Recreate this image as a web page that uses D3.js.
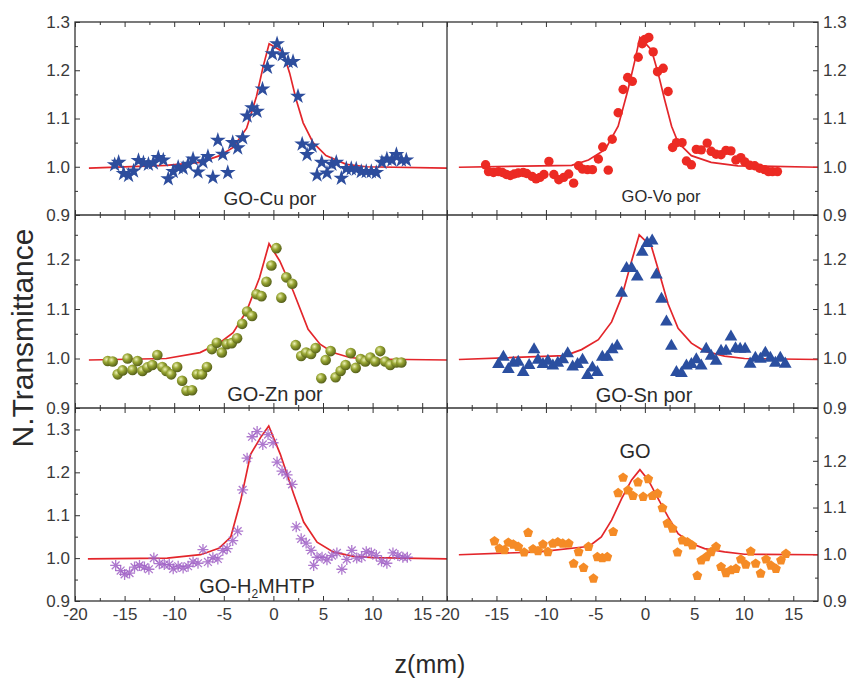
<!DOCTYPE html>
<html>
<head>
<meta charset="utf-8">
<script src="https://cdn.jsdelivr.net/npm/d3@7/dist/d3.min.js"></script>
<style>
body { margin: 0; background: #fff; }
text { font-family: "Liberation Sans", Arial, sans-serif; fill: #2a2a2a; }
.tick text { font-family: "Liberation Sans Narrow", "Arial Narrow", "Liberation Sans", sans-serif; font-size: 17px; fill: #3a3a3a; }
.tick line { stroke: #333; }
</style>
</head>
<body>
<script>
// ---- data: [z (mm), normalized transmittance] ----
const cuPoints = [[-16.0,1.004],[-15.6,1.009],[-15.1,0.986],[-14.6,0.982],[-14.1,0.991],[-13.6,1.013],[-13.1,1.008],[-12.6,1.005],[-12.1,1.008],[-11.6,1.019],[-11.1,1.014],[-10.6,0.975],[-10.1,0.990],[-9.6,0.999],[-9.1,0.997],[-8.6,1.005],[-8.1,1.016],[-7.6,0.989],[-7.1,1.010],[-6.6,1.021],[-6.1,0.978],[-5.6,1.055],[-5.1,1.026],[-4.6,0.988],[-4.1,1.050],[-3.6,1.039],[-3.1,1.060],[-2.65,1.105],[-2.15,1.122],[-1.65,1.115],[-1.1,1.161],[-0.6,1.206],[-0.1,1.234],[0.37,1.255],[0.9,1.232],[1.48,1.218],[1.98,1.218],[2.48,1.146],[2.9,1.047],[3.39,1.025],[3.9,1.043],[4.4,0.983],[4.87,1.009],[5.4,0.987],[5.9,1.005],[6.34,1.009],[6.85,0.976],[7.35,0.996],[7.85,0.996],[8.35,0.995],[8.86,0.990],[9.36,0.990],[9.87,0.990],[10.37,0.988],[10.94,1.009],[11.44,1.016],[11.95,1.014],[12.4,1.025],[12.9,1.014],[13.4,1.014]];
const cuFit = [[-18.6,0.997],[-10.8,1.003],[-7.4,1.009],[-5.4,1.023],[-4.06,1.040],[-2.7,1.080],[-1.7,1.146],[-1.04,1.207],[-0.43,1.255],[0.97,1.238],[1.64,1.194],[2.3,1.139],[3.0,1.091],[4.0,1.050],[5.3,1.023],[7.35,1.005],[9.36,1.000],[17.5,0.997]];

const voPoints = [[-16.1,1.004],[-15.8,0.990],[-15.3,0.988],[-14.8,0.990],[-14.4,0.988],[-14.0,0.984],[-13.6,0.982],[-13.2,0.985],[-12.8,0.987],[-12.3,0.988],[-11.95,0.986],[-11.4,0.980],[-11.0,0.975],[-10.6,0.978],[-10.2,0.984],[-9.7,1.011],[-9.2,0.984],[-8.7,0.973],[-8.2,0.978],[-7.7,0.985],[-7.2,0.966],[-6.7,1.002],[-6.3,0.995],[-5.8,0.994],[-5.3,0.994],[-4.7,1.016],[-4.26,1.041],[-3.7,0.993],[-3.3,1.057],[-2.7,1.112],[-2.2,1.160],[-1.74,1.185],[-1.27,1.177],[-0.67,1.227],[-0.27,1.255],[0.0,1.264],[0.4,1.268],[0.84,1.238],[1.28,1.197],[1.85,1.204],[2.35,1.156],[2.8,1.040],[3.2,1.050],[3.76,1.050],[4.2,1.012],[4.7,1.004],[5.2,1.036],[5.7,1.035],[6.3,1.049],[6.7,1.032],[7.2,1.026],[7.7,1.025],[8.2,1.034],[8.7,1.033],[9.2,1.014],[9.7,1.019],[10.1,1.010],[10.6,1.003],[11.1,1.002],[11.6,0.997],[12.1,0.994],[12.5,0.990],[12.9,0.990],[13.4,0.990]];
const voFit = [[-18.8,0.999],[-7.4,1.003],[-5.7,1.014],[-4.0,1.036],[-2.7,1.084],[-1.7,1.160],[-1.0,1.221],[-0.5,1.268],[0.67,1.242],[1.34,1.194],[2.0,1.139],[2.7,1.084],[3.36,1.050],[4.7,1.023],[6.7,1.009],[9.4,1.002],[17.5,0.999]];

const znPoints = [[-16.7,0.995],[-16.2,0.994],[-15.7,0.968],[-15.2,0.976],[-14.7,1.000],[-14.2,0.977],[-13.7,0.995],[-13.2,0.975],[-12.7,0.982],[-12.2,0.987],[-11.7,1.007],[-11.2,0.983],[-10.8,0.975],[-10.3,0.968],[-9.7,0.983],[-9.2,0.955],[-8.76,0.935],[-8.2,0.936],[-7.7,0.968],[-7.2,0.968],[-6.7,0.983],[-6.2,1.019],[-5.7,1.032],[-5.2,1.012],[-4.7,1.029],[-4.2,1.031],[-3.66,1.041],[-3.15,1.070],[-2.65,1.095],[-2.15,1.086],[-1.7,1.130],[-1.2,1.126],[-0.7,1.155],[-0.2,1.188],[0.3,1.223],[0.8,1.123],[1.3,1.164],[1.9,1.151],[2.25,1.027],[2.8,1.005],[3.3,1.012],[3.8,1.009],[4.26,1.021],[4.83,0.960],[5.27,0.997],[5.77,1.015],[6.27,0.962],[6.78,0.975],[7.28,0.987],[7.8,1.011],[8.3,0.981],[8.8,0.999],[9.26,0.994],[9.77,1.002],[10.27,0.994],[10.77,1.015],[11.27,0.994],[11.78,0.987],[12.4,0.992],[12.9,0.992]];
const znFit = [[-18.6,0.997],[-10.8,1.000],[-7.4,1.012],[-5.4,1.032],[-4.06,1.052],[-2.7,1.096],[-1.4,1.163],[-0.44,1.232],[0.64,1.197],[2.0,1.136],[3.5,1.059],[4.7,1.029],[6.0,1.012],[7.7,1.002],[9.36,0.999],[17.5,0.997]];

const snPoints = [[-14.8,0.988],[-14.3,1.003],[-13.8,0.978],[-13.3,0.991],[-12.8,0.993],[-12.3,0.972],[-11.7,0.986],[-11.2,1.018],[-10.8,0.997],[-10.3,0.988],[-9.8,0.995],[-9.3,0.985],[-8.8,0.991],[-8.3,0.998],[-7.8,1.010],[-7.3,0.983],[-6.8,0.988],[-6.3,0.997],[-5.8,0.966],[-5.3,0.981],[-4.8,0.972],[-4.3,1.003],[-3.8,1.003],[-3.3,1.018],[-2.8,1.025],[-2.35,1.132],[-1.85,1.182],[-1.34,1.182],[-0.77,1.165],[-0.27,1.215],[0.23,1.233],[0.74,1.238],[1.17,1.169],[1.68,1.120],[2.18,1.074],[2.68,1.025],[3.19,0.972],[3.7,0.970],[4.2,0.985],[4.7,0.988],[5.2,0.998],[5.7,0.985],[6.2,1.019],[6.7,1.005],[7.2,0.995],[7.7,1.015],[8.2,1.015],[8.7,1.044],[9.16,1.020],[9.63,1.019],[10.13,1.019],[10.64,0.989],[11.17,1.001],[11.68,0.999],[12.18,1.011],[12.68,1.001],[13.19,0.991],[13.69,1.001],[14.19,0.989]];
const snFit = [[-18.8,0.998],[-8.05,1.006],[-6.4,1.018],[-4.7,1.038],[-3.36,1.074],[-2.35,1.124],[-1.34,1.197],[-0.57,1.250],[0.67,1.226],[1.5,1.170],[2.35,1.110],[3.36,1.061],[4.7,1.031],[6.0,1.015],[8.05,1.005],[10.07,1.000],[17.5,0.998]];

const h2Points = [[-15.9,0.983],[-15.4,0.971],[-15.0,0.962],[-14.5,0.965],[-14.0,0.979],[-13.5,0.983],[-13.0,0.979],[-12.55,0.974],[-12.05,1.000],[-11.5,0.987],[-11.0,0.985],[-10.5,0.985],[-10.1,0.975],[-9.6,0.981],[-9.1,0.977],[-8.6,0.981],[-8.1,0.991],[-7.6,0.988],[-7.1,1.020],[-6.6,0.991],[-6.1,1.001],[-5.6,0.998],[-5.1,1.018],[-4.66,1.022],[-4.1,1.041],[-3.6,1.063],[-3.1,1.159],[-2.65,1.233],[-2.15,1.283],[-1.64,1.295],[-1.07,1.265],[-0.54,1.288],[-0.03,1.269],[0.37,1.224],[0.87,1.203],[1.38,1.194],[1.88,1.172],[2.3,1.073],[2.8,1.045],[3.3,1.035],[3.8,1.018],[4.06,0.983],[4.4,1.002],[4.9,1.002],[5.4,0.996],[5.9,1.006],[6.4,1.012],[6.9,0.974],[7.4,0.997],[7.9,1.018],[8.4,1.000],[8.9,1.002],[9.36,1.015],[9.87,1.012],[10.37,1.006],[10.9,0.993],[11.44,0.988],[12.05,1.012],[12.55,1.006],[13.05,1.002],[13.5,1.002]];
const h2Fit = [[-18.7,0.998],[-10.7,1.000],[-7.35,1.008],[-5.5,1.023],[-4.3,1.049],[-3.3,1.134],[-2.3,1.242],[-1.3,1.281],[-0.47,1.308],[0.7,1.242],[2.05,1.149],[3.05,1.084],[4.4,1.037],[6.07,1.014],[8.1,1.004],[10.1,1.001],[17.5,0.998]];

const goPoints = [[-15.2,1.028],[-14.7,1.012],[-14.2,1.009],[-13.8,1.025],[-13.3,1.021],[-12.8,1.016],[-12.2,1.004],[-11.8,1.046],[-11.3,1.011],[-10.8,1.007],[-10.3,1.021],[-9.8,1.005],[-9.3,1.023],[-8.8,1.026],[-8.3,1.023],[-7.7,1.023],[-7.2,0.980],[-6.7,1.005],[-6.2,0.971],[-5.7,1.016],[-5.2,0.948],[-4.8,0.994],[-4.3,0.992],[-3.8,0.994],[-3.2,1.048],[-2.7,1.131],[-2.2,1.164],[-1.7,1.137],[-1.2,1.125],[-0.7,1.154],[-0.17,1.123],[0.34,1.161],[0.77,1.125],[1.28,1.130],[1.78,1.099],[2.28,1.066],[2.8,1.055],[3.3,1.004],[3.8,1.030],[4.3,1.026],[4.8,1.019],[5.3,0.954],[5.7,0.987],[6.2,0.994],[6.7,1.005],[7.2,1.016],[7.7,0.973],[8.2,0.960],[8.7,0.966],[9.2,0.969],[9.7,0.989],[10.2,0.978],[10.7,1.006],[11.2,0.980],[11.7,0.959],[12.25,0.989],[12.75,0.976],[13.25,0.969],[13.76,0.987],[14.26,1.001]];
const goFit = [[-18.8,0.999],[-10.7,1.005],[-6.0,1.016],[-5.4,1.021],[-4.4,1.037],[-3.36,1.073],[-2.35,1.119],[-1.34,1.159],[-0.5,1.181],[0.34,1.159],[1.34,1.119],[2.35,1.080],[3.36,1.044],[4.7,1.023],[6.04,1.012],[8.05,1.005],[10.07,1.000],[17.5,0.999]];

const zDomain = [-20, 17.5];
const zTicks = [-20, -15, -10, -5, 0, 5, 10, 15];
const yTicksFull = [0.9, 1.0, 1.1, 1.2, 1.3];
const yTicksShort = [0.9, 1.0, 1.1, 1.2];
const yMinor = [0.95, 1.05, 1.15, 1.25];

// ---- layout ----
const W = 848, H = 679;
const left = 75, mid = 447, right = 818;
const rows = [22, 215, 408, 601];

// panel table: column, row, y-range top, marker, label (x, y relative to panel)
const panels = [
	{label: "GO-Cu por", pts: cuPoints, fit: cuFit, col: 0, row: 0, yMax: 1.3, yTicks: yTicksFull, marker: "star", lx: 195, ly: 183, fs: 19},
	{label: "GO-Vo por", pts: voPoints, fit: voFit, col: 1, row: 0, yMax: 1.3, yTicks: yTicksFull, marker: "circle", lx: 214, ly: 180, fs: 16.5},
	{label: "GO-Zn por", pts: znPoints, fit: znFit, col: 0, row: 1, yMax: 1.29, yTicks: yTicksShort, marker: "ball", lx: 200, ly: 186, fs: 20},
	{label: "GO-Sn por", pts: snPoints, fit: snFit, col: 1, row: 1, yMax: 1.29, yTicks: yTicksShort, marker: "triangle", lx: 197, ly: 187, fs: 20},
	{label: "GO-H|2|MHTP", pts: h2Points, fit: h2Fit, col: 0, row: 2, yMax: 1.35, yTicks: yTicksFull, marker: "asterisk", lx: 182, ly: 185, fs: 20},
	{label: "GO", pts: goPoints, fit: goFit, col: 1, row: 2, yMax: 1.313, yTicks: yTicksShort, marker: "pentagon", lx: 188, ly: 50, fs: 20}
];

const svg = d3.select("body").append("svg")
	.attr("width", W)
	.attr("height", H);

// gradient for the olive balls
const grad = svg.append("defs").append("radialGradient")
	.attr("id", "ball")
	.attr("cx", "38%").attr("cy", "35%").attr("r", "65%");
grad.append("stop").attr("offset", "0%").attr("stop-color", "#eef2b8");
grad.append("stop").attr("offset", "45%").attr("stop-color", "#98a633");
grad.append("stop").attr("offset", "100%").attr("stop-color", "#56601a");

const pentagon = d3.range(5).map(i => {
	let a = -Math.PI / 2 + i * 2 * Math.PI / 5;
	return [5.2 * Math.cos(a), 5.2 * Math.sin(a)];
});
const pentagonPath = "M" + pentagon.map(p => p.join(",")).join("L") + "Z";
const asteriskPath = "M-5.5,0H5.5M0,-5.5V5.5M-3.9,-3.9L3.9,3.9M-3.9,3.9L3.9,-3.9";

panels.forEach(p => {
	let x0 = p.col === 0 ? left : mid;
	let x1 = p.col === 0 ? mid : right;
	let y0 = rows[p.row], y1 = rows[p.row + 1];

	let x = d3.scaleLinear().domain(zDomain).range([x0, x1]);
	let y = d3.scaleLinear().domain([0.9, p.yMax]).range([y1, y0]);

	let g = svg.append("g");
	let clipId = "clip" + p.col + p.row;
	g.append("clipPath").attr("id", clipId)
		.append("rect")
		.attr("x", x0).attr("y", y0)
		.attr("width", x1 - x0).attr("height", y1 - y0);

	// ticks, all pointing inward
	let axes = [
		[d3.axisBottom(x).tickValues(zTicks).tickSize(-5), y1],
		[d3.axisBottom(x).tickValues(d3.range(-17.5, 17.5, 5)).tickSize(-3).tickFormat(""), y1],
		[d3.axisTop(x).tickValues(zTicks).tickSize(-5).tickFormat(""), y0],
		[d3.axisTop(x).tickValues(d3.range(-17.5, 17.5, 5)).tickSize(-3).tickFormat(""), y0]
	];
	axes.forEach((a, i) => {
		let ax = g.append("g").attr("transform", `translate(0,${a[1]})`).call(a[0].tickSizeOuter(0));
		ax.select(".domain").remove();
		if (i === 0) {
			if (p.row === 2) ax.selectAll("text").text(d => String(d)).attr("dy", "0.95em");
			else ax.selectAll("text").remove();
		}
	});

	let yAxis = p.col === 0 ? d3.axisLeft : d3.axisRight;
	let yx = p.col === 0 ? x0 : x1;
	let ya = g.append("g").attr("transform", `translate(${yx},0)`)
		.call(yAxis(y).tickValues(p.yTicks).tickSize(-5).tickSizeOuter(0).tickPadding(5).tickFormat(d => d.toFixed(1)));
	ya.select(".domain").remove();
	let ym = g.append("g").attr("transform", `translate(${yx},0)`)
		.call(yAxis(y).tickValues(yMinor).tickSize(-3).tickSizeOuter(0).tickFormat(""));
	ym.select(".domain").remove();

	// fit curve
	g.append("path")
		.datum(p.fit)
		.attr("clip-path", `url(#${clipId})`)
		.attr("fill", "none")
		.attr("stroke", "#e3262b")
		.attr("stroke-width", 1.7)
		.attr("d", d3.line().x(d => x(d[0])).y(d => y(d[1])));

	// data markers
	let m = g.append("g").attr("clip-path", `url(#${clipId})`)
		.selectAll("path")
		.data(p.pts)
		.join(p.marker === "circle" || p.marker === "ball" ? "circle" : "path");

	if (p.marker === "circle") {
		m.attr("cx", d => x(d[0])).attr("cy", d => y(d[1])).attr("r", 4.7).attr("fill", "#ec2a23");
	} else if (p.marker === "ball") {
		m.attr("cx", d => x(d[0])).attr("cy", d => y(d[1])).attr("r", 5.3).attr("fill", "url(#ball)");
	} else {
		let tr = d => `translate(${x(d[0])},${y(d[1])})`;
		if (p.marker === "star")
			m.attr("d", d3.symbol(d3.symbolStar, 78)).attr("fill", "#2d4d9d");
		else if (p.marker === "triangle")
			m.attr("d", d3.symbol(d3.symbolTriangle, 70)).attr("fill", "#2b4fa0");
		else if (p.marker === "pentagon")
			m.attr("d", pentagonPath).attr("fill", "#f58b26");
		else
			m.attr("d", asteriskPath).attr("fill", "none").attr("stroke", "#a062c6").attr("stroke-width", 1.3).attr("stroke-opacity", 0.85);
		m.attr("transform", tr);
	}

	// panel label, "|2|" marks a subscript
	let t = g.append("text")
		.attr("x", x0 + p.lx)
		.attr("y", y0 + p.ly)
		.attr("text-anchor", "middle")
		.attr("font-size", p.fs);
	p.label.split("|").forEach((s, i) => {
		let ts = t.append("tspan").text(s);
		if (i === 1) ts.attr("font-size", p.fs * 0.6).attr("dy", 5);
		if (i === 2) ts.attr("dy", -5);
	});
});

// frame lines
svg.append("rect")
	.attr("x", left).attr("y", rows[0])
	.attr("width", right - left).attr("height", rows[3] - rows[0])
	.attr("fill", "none").attr("stroke", "#333").attr("stroke-width", 1.3);
svg.append("line")
	.attr("x1", mid).attr("x2", mid).attr("y1", rows[0]).attr("y2", rows[3])
	.attr("stroke", "#333").attr("stroke-width", 1.3);
[rows[1], rows[2]].forEach(r => {
	svg.append("line")
		.attr("x1", left).attr("x2", right).attr("y1", r).attr("y2", r)
		.attr("stroke", "#333").attr("stroke-width", 1.3);
});

// axis titles
svg.append("text")
	.attr("transform", "translate(33,338) rotate(-90)")
	.attr("text-anchor", "middle")
	.attr("font-size", 30)
	.text("N.Transmittance");

svg.append("text")
	.attr("x", 430)
	.attr("y", 673)
	.attr("text-anchor", "middle")
	.attr("font-size", 25)
	.text("z(mm)");
</script>
</body>
</html>
